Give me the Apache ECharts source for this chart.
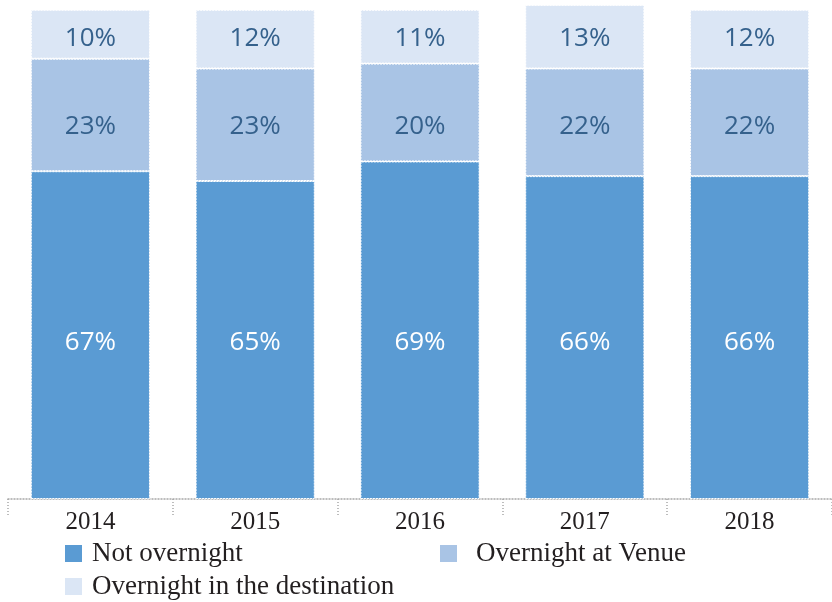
<!DOCTYPE html>
<html>
<head>
<meta charset="utf-8">
<script src="https://cdn.jsdelivr.net/npm/echarts@6/dist/echarts.min.js"></script>
<style>
  html, body { margin: 0; padding: 0; background: #fff; }
  #chart { width: 832px; height: 602px; }
</style>
</head>
<body>
<div id="chart"></div>
<script>
var years = ['2014', '2015', '2016', '2017', '2018'];
var notOvernight = [67, 65, 69, 66, 66];
var atVenue = [23, 23, 20, 22, 22];
var inDestination = [10, 12, 11, 13, 12];
var seriesNames = ['Not overnight', 'Overnight at Venue', 'Overnight in the destination'];

// the source puts each series' labels on one common row, not at the middle of every segment
var labelRows = [31.9, 76.2, 94.2];

var myChart = echarts.init(document.getElementById('chart'));

function barSeries(name, data, color, labelColor) {
	return {
		name: name,
		type: 'bar',
		stack: 'total',
		barCategoryGap: '27.7%',
		data: data,
		itemStyle: {
			color: color,
			borderColor: '#ffffff',
			borderWidth: 1,
			borderType: [2, 1]
		},
		label: {
			show: true,
			position: 'inside',
			formatter: '{c}%',
			color: labelColor,
			fontFamily: 'Open Sans',
			fontSize: 26
		}
	};
}

function legendAt(name, left, top, gap) {
	return {
		data: [name],
		left: left,
		top: top,
		itemWidth: 19,
		itemHeight: 19,
		icon: 'rect',
		padding: 0,
		textStyle: {
			fontFamily: 'Liberation Serif',
			fontSize: 27,
			color: '#231f20',
			padding: [0, 0, 0, gap]
		}
	};
}

var stacks = [notOvernight, atVenue, inDestination];

var option = {
	animation: false,
	grid: { left: 8, right: -6, top: 0, bottom: 103 },
	xAxis: {
		type: 'category',
		data: years,
		axisLine: { lineStyle: { color: '#a8a8a8', type: [1, 2], width: 1.5 } },
		axisTick: { show: true, length: 16, lineStyle: { color: '#a8a8a8', type: [1, 2], width: 1.5 } },
		axisLabel: {
			margin: 11,
			fontFamily: 'Liberation Serif',
			fontSize: 25,
			color: '#231f20'
		}
	},
	yAxis: {
		type: 'value',
		min: 0,
		max: 102,
		show: false
	},
	legend: [
		legendAt(seriesNames[0], 63, 540, 4),
		legendAt(seriesNames[1], 438, 540, 13),
		legendAt(seriesNames[2], 63, 573, 4)
	],
	series: [
		barSeries(seriesNames[0], notOvernight, '#5a9bd3', '#ffffff'),
		barSeries(seriesNames[1], atVenue, '#a9c4e5', '#35618c'),
		barSeries(seriesNames[2], inDestination, '#dbe6f5', '#35618c')
	]
};
myChart.setOption(option);

// move each label from its segment middle to the series' common row
var seriesData = [];
for (var s = 0; s < stacks.length; s++) {
	var items = [];
	for (var i = 0; i < years.length; i++) {
		var base = 0;
		for (var k = 0; k < s; k++) base += stacks[k][i];
		var mid = base + stacks[s][i] / 2;
		var dy = myChart.convertToPixel({ yAxisIndex: 0 }, labelRows[s]) -
			myChart.convertToPixel({ yAxisIndex: 0 }, mid);
		items.push({ value: stacks[s][i], label: { offset: [0, dy] } });
	}
	seriesData.push({ data: items });
}
myChart.setOption({ series: seriesData });
</script>
</body>
</html>
